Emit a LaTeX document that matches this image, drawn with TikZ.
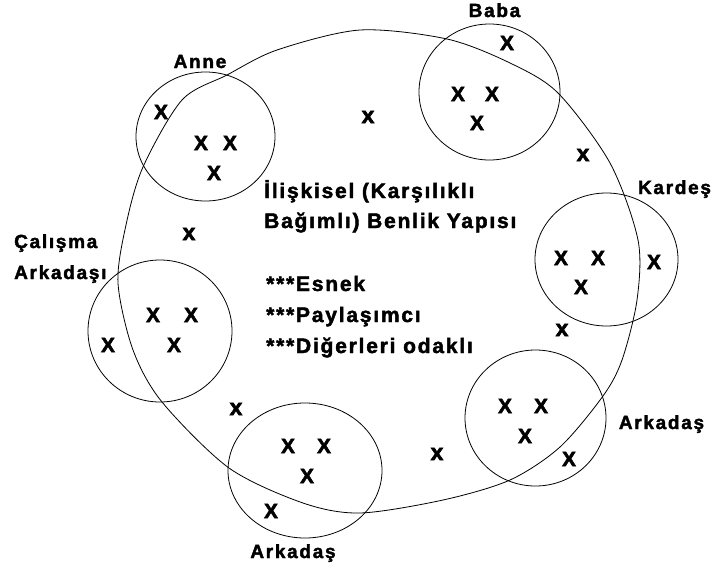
\documentclass[tikz,border=0pt]{standalone}
\usepackage{fontspec}
\setmainfont{Liberation Sans}[BoldFont={Liberation Sans Bold}]
\newfontfamily\xf{Liberation Sans Bold}[FakeBold=2.5]
\newfontfamily\mainf{Liberation Sans Bold}[LetterSpace=8.5, FakeBold=2]
\newfontfamily\labf{Liberation Sans Bold}[LetterSpace=9, FakeBold=2]
\usetikzlibrary{shapes.geometric}
\begin{document}
\begin{tikzpicture}[x=1pt,y=-1pt,
  grp/.style={draw, ellipse, line width=0.8pt, inner sep=0pt},
  bigX/.style={font=\xf\fontsize{21}{21}\selectfont, inner sep=0pt},
  smallx/.style={font=\xf\fontsize{23}{23}\selectfont, inner sep=0pt},
  lab/.style={font=\labf\fontsize{19}{19}\selectfont, inner sep=0pt, anchor=base},
  labw/.style={font=\labf\fontsize{19}{19}\selectfont, inner sep=0pt, anchor=base west},
  maintxt/.style={font=\mainf\fontsize{21}{21}\selectfont, inner sep=0pt, anchor=base west}]
\useasboundingbox (0,0) rectangle (719,573);
\fill[white] (0,0) rectangle (719,573);
% big self boundary
\draw[line width=0.8pt] plot[smooth cycle] coordinates {
(360,30) (447,39) (510,63) (558,93) (610,163) (638,240) (637,300) (622,360)
(603,396) (560,447) (510,480) (443,500) (360,513) (303,503) (229,468) (162,402)
(133,350) (118,283) (126,225) (143,167) (182,100) (227,75) (277,50)};
% group circles
\node[grp, minimum width=139pt, minimum height=129pt] (anne) at (205.5,136.5) {};
\node[grp, minimum width=141pt, minimum height=136pt] (baba) at (489.5,92) {};
\node[grp, minimum width=143pt, minimum height=133pt] (kardes) at (606.5,259.5) {};
\node[grp, minimum width=144pt, minimum height=142pt] (calisma) at (160,331) {};
\node[grp, minimum width=154pt, minimum height=135pt] (arkB) at (305,470.5) {};
\node[grp, minimum width=141pt, minimum height=136pt] (arkR) at (535.5,418) {};
% labels
\node[lab] (lanne) at (200,68) {Anne};
\node[lab] (lbaba) at (494.5,17) {Baba};
\node[lab] (lkardes) at (674.5,194) {Kardeş};
\node[labw] (lcal1) at (14,248) {Çalışma};
\node[labw] (lcal2) at (14,279) {Arkadaşı};
\node[lab] (larkB) at (293,558) {Arkadaş};
\node[lab] (larkR) at (661.5,429) {Arkadaş};
% central text
\node[maintxt] (t1) at (264,198) {İlişkisel (Karşılıklı};
\node[maintxt] (t2) at (264,228) {Bağımlı) Benlik Yapısı};
\node[maintxt] (t3) at (266,291) {***Esnek};
\node[maintxt] (t4) at (266,322) {***Paylaşımcı};
\node[maintxt] (t5) at (266,353) {***Diğerleri odaklı};
% Anne X
\node[bigX] (a1) at (161,112) {X};
\node[bigX] (a2) at (201,143) {X};
\node[bigX] (a3) at (230,143) {X};
\node[bigX] (a4) at (214,173) {X};
% Baba X
\node[bigX] (b1) at (507,43) {X};
\node[bigX] (b2) at (458,94) {X};
\node[bigX] (b3) at (492,94) {X};
\node[bigX] (b4) at (477,123) {X};
% Kardes X
\node[bigX] (k1) at (561,258) {X};
\node[bigX] (k2) at (598,258) {X};
\node[bigX] (k3) at (654,262) {X};
\node[bigX] (k4) at (581,287) {X};
% Calisma X
\node[bigX] (c1) at (153,315) {X};
\node[bigX] (c2) at (191,315) {X};
\node[bigX] (c3) at (108,345) {X};
\node[bigX] (c4) at (174,345) {X};
% Arkadas bottom X
\node[bigX] (d1) at (288,446) {X};
\node[bigX] (d2) at (324,446) {X};
\node[bigX] (d3) at (307,476) {X};
\node[bigX] (d4) at (271,511) {X};
% Arkadas right X
\node[bigX] (e1) at (505,406) {X};
\node[bigX] (e2) at (541,406) {X};
\node[bigX] (e3) at (525,436) {X};
\node[bigX] (e4) at (569,459) {X};
% small x
\node[smallx] (s1) at (368,117) {x};
\node[smallx] (s2) at (583,155) {x};
\node[smallx] (s3) at (189,234) {x};
\node[smallx] (s4) at (562,330) {x};
\node[smallx] (s5) at (236,409) {x};
\node[smallx] (s6) at (437,454) {x};
\end{tikzpicture}
\end{document}
